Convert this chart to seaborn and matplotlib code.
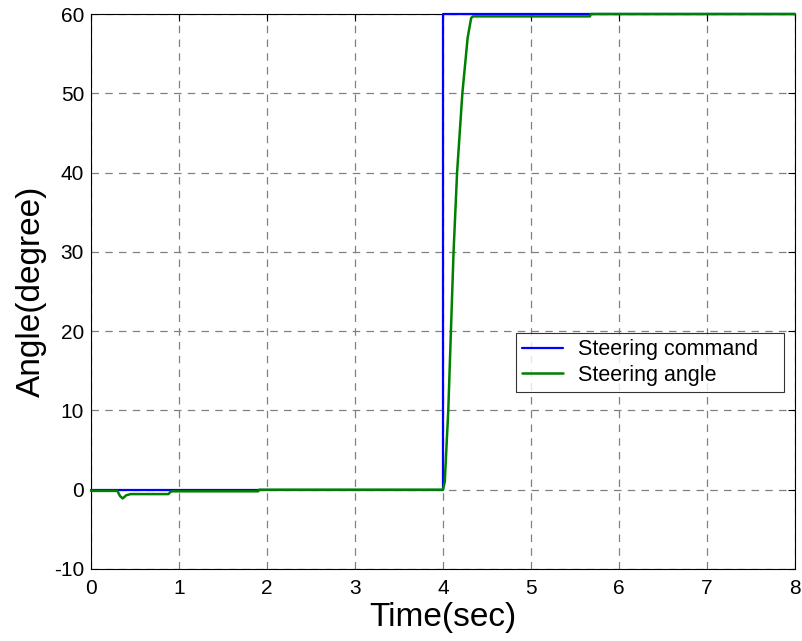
import matplotlib
matplotlib.use("Agg")
import matplotlib.pyplot as plt
import seaborn as sns
import pandas as pd

# Data
cmd_t = [0.0, 4.0, 4.0, 8.0]
cmd_v = [0.0, 0.0, 60.0, 60.0]

ang_t = [0.0, 0.30, 0.33, 0.36, 0.40, 0.45, 0.88, 0.90, 0.92, 1.90, 1.91,
         4.00, 4.02, 4.06, 4.09, 4.12, 4.16, 4.22, 4.28, 4.32, 4.34, 5.67, 5.68, 8.0]
ang_v = [-0.15, -0.15, -0.8, -1.1, -0.7, -0.55, -0.55, -0.3, -0.2, -0.2, 0.0,
         0.0, 1.0, 10.0, 20.0, 30.0, 40.0, 50.0, 57.0, 59.5, 59.7, 59.7, 60.0, 60.0]

x_ticks = [0, 1, 2, 3, 4, 5, 6, 7, 8]
y_ticks = [-10, 0, 10, 20, 30, 40, 50, 60]

sns.set_theme(style="white")
plt.rcParams['font.family'] = ['Liberation Sans', 'DejaVu Sans']
plt.rcParams['axes.unicode_minus'] = False
plt.rcParams['text.color'] = 'black'
plt.rcParams['axes.labelcolor'] = 'black'
plt.rcParams['xtick.color'] = 'black'
plt.rcParams['ytick.color'] = 'black'

fig = plt.figure(figsize=(8.02, 6.41), dpi=100)
ax = fig.add_axes([91/802, 1 - 569/641, (795 - 91)/802, (569 - 14)/641])

df_cmd = pd.DataFrame({"t": cmd_t, "v": cmd_v})
df_ang = pd.DataFrame({"t": ang_t, "v": ang_v})
sns.lineplot(data=df_cmd, x="t", y="v", ax=ax, color="#0000ff", lw=1.6,
             sort=False, estimator=None, label="Steering command", clip_on=False, zorder=3)
sns.lineplot(data=df_ang, x="t", y="v", ax=ax, color="#008000", lw=1.8,
             sort=False, estimator=None, label="Steering angle", clip_on=False, zorder=4)

ax.set_xlim(0, 8)
ax.set_ylim(-10, 60)
ax.set_xticks(x_ticks)
ax.set_yticks(y_ticks)
ax.tick_params(direction="in", length=5, width=0.8, labelsize=15, color="black",
               labelcolor="black", top=True, right=True)
ax.tick_params(axis="x", pad=7)
ax.tick_params(axis="y", pad=5)
ax.grid(True, color="#808080", linestyle=(0, (6, 5)), linewidth=0.9)
for s in ax.spines.values():
    s.set_color("black")
    s.set_linewidth(0.8)
    s.set_visible(True)
    s.set_zorder(2.5)

ax.set_xlabel("Time(sec)", fontsize=24, labelpad=3)
ax.set_ylabel("Angle(degree)", fontsize=24, labelpad=5)

# legend box spanning x 516..784 px, bottom at y=12.3
x0 = (516 - 91) / 704
w = (784 - 516) / 704
y0 = (12.3 + 10) / 70
leg = ax.legend(loc="lower left", bbox_to_anchor=(x0, y0, w, 0.1), mode="expand",
                fontsize=15.5, frameon=True, fancybox=False, edgecolor="black",
                handlelength=1.9, handletextpad=0.7, borderpad=0.3,
                labelspacing=0.2, borderaxespad=0)
leg.get_frame().set_linewidth(0.8)
leg.set_zorder(5)

fig.savefig("out.png", dpi=100)
